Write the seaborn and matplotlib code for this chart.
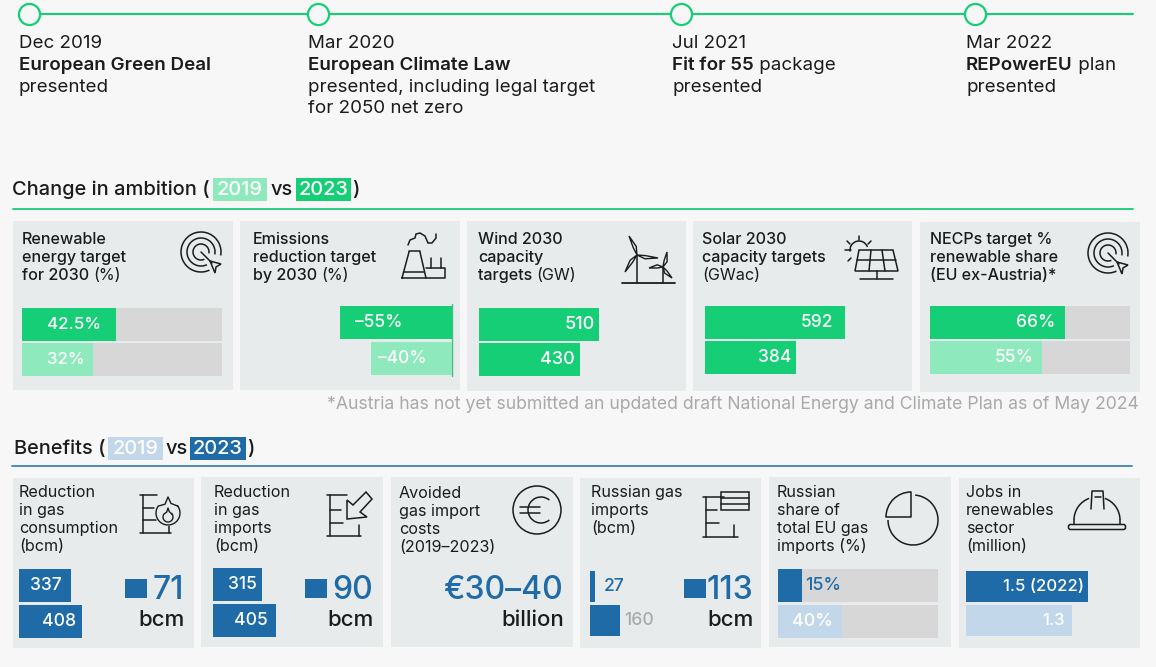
import numpy as np
import pandas as pd
import matplotlib
matplotlib.use("Agg")
import matplotlib.pyplot as plt
from matplotlib.patches import Arc, Circle, Rectangle, Polygon, FancyBboxPatch
import seaborn as sns

# ---- data ----
rows = ["2023", "2019"]

renewable_target = [42.5, 32]
renewable_labels = ["42.5%", "32%"]
emissions_target = [-55, -40]
emissions_labels = ["–55%", "–40%"]
wind_target = [510, 430]
solar_target = [592, 384]
necp_share = [66, 55]
necp_labels = ["66%", "55%"]

gas_consumption = [337, 408]
gas_imports = [315, 405]
russian_imports = [27, 160]
russian_share = [15, 40]
russian_share_labels = ["15%", "40%"]
jobs = [1.5, 1.3]
jobs_labels = ["1.5 (2022)", "1.3"]

milestones = ["Dec 2019", "Mar 2020", "Jul 2021", "Mar 2022"]

# ---- colours ----
BG = "#f7f7f7"
PANEL = "#e8ebec"
TRACK = "#d7d7d7"
GREEN = "#16ce76"
LGREEN = "#8eeabd"
BLUE = "#1f6ba8"
LBLUE = "#c2d8ea"
INK = "#1c1c1c"
GREY = "#a9a9a9"

W, H = 1156, 667
FONT = "Inter"

sns.set_theme(style="white")
plt.rcParams["font.family"] = [FONT, "DejaVu Sans"]

fig = plt.figure(figsize=(W / 100, H / 100), dpi=100, facecolor=BG)
bg = fig.add_axes([0, 0, 1, 1], zorder=0)
bg.set_xlim(0, W)
bg.set_ylim(H, 0)
bg.axis("off")
rend = fig.canvas.get_renderer()


def rich(x, y, parts, size, ax=bg):
    # run of text pieces on one baseline, (string, weight, colour)
    for s, weight, col in parts:
        t = ax.text(x, y, s, fontsize=size, fontweight=weight, color=col, va="baseline", ha="left")
        x += t.get_window_extent(rend).width
    return x


def bars(box, values, labels, colors, xlim, offsets, size=12.5, label_cols=None, track=None):
    left, top, right, bottom = box
    ax = fig.add_axes([left / W, 1 - bottom / H, (right - left) / W, (bottom - top) / H], zorder=2)
    df = pd.DataFrame({"year": rows, "value": values})
    if track is not None:
        sns.barplot(x=[track, track], y=rows, color=TRACK, saturation=1, width=0.94, linewidth=0, ax=ax)
    sns.barplot(data=df, x="value", y="year", hue="year", palette=dict(zip(rows, colors)),
                saturation=1, width=0.94, dodge=False, legend=False, linewidth=0, ax=ax)
    ax.set_xlim(*xlim)
    ax.set_ylim(1.5, -0.5)
    ax.axis("off")
    for i, (v, lab, off) in enumerate(zip(values, labels, offsets)):
        col = label_cols[i] if label_cols else "white"
        ax.annotate(lab, xy=(v, i), xytext=(off, 0), textcoords="offset pixels",
                    ha="right" if off < 0 and v > 0 else "left", va="center",
                    fontsize=size, color=col, fontweight="medium")
    return ax


def line(xs, ys, lw=1.1, col=INK, z=3):
    bg.plot(xs, ys, color=col, lw=lw, solid_capstyle="round", solid_joinstyle="round", zorder=z)


def arc(cx, cy, r, a0, a1, lw=1.1):
    # angles clockwise on screen because y is inverted
    bg.add_patch(Arc((cx, cy), 2 * r, 2 * r, theta1=a0, theta2=a1, color=INK, lw=lw, zorder=3))


def target_icon(cx, cy):
    for r in (20, 14, 8):
        arc(cx, cy, r, 65, 20 + 360 - 10)
    line([cx, cx + 11], [cy, cy + 11])
    bg.add_patch(Polygon([(cx + 9, cy + 9), (cx + 20, cy + 12), (cx + 15, cy + 15), (cx + 14, cy + 21)],
                         closed=True, fill=False, ec=INK, lw=1.1, zorder=3))


def blade(hub, tip):
    hub, tip = np.array(hub, float), np.array(tip, float)
    d = tip - hub
    n = np.array([-d[1], d[0]]) / np.hypot(*d)
    bg.add_patch(Polygon([hub, hub + d * 0.4 + n * 2.6, tip, hub + d * 0.4 - n * 0.6],
                         closed=True, fill=False, ec=INK, lw=1.0, zorder=3))


def barrel(x0, x1, top, bottom, m1, m2, rx):
    line([x0, x1 - 14], [top, top])
    line([x0 + 3, x0 + 3], [top, bottom])
    line([x0 + 3, x0 + 14], [m1, m1])
    line([x0 + 3, x0 + 16], [m2, m2])
    line([x0, x1], [bottom, bottom])
    line([rx, rx], [m2 + 2, bottom])


def flame(cx, cy, r, tip):
    # round bottom that rises to a point
    t = np.radians(np.linspace(-35, 215, 30))
    xs = cx + r * np.cos(t)
    ys = cy + r * np.sin(t)
    line(list(xs) + [cx - r * 0.25, cx, cx + r * 0.25, xs[0]],
         list(ys) + [cy - tip * 0.55, cy - tip, cy - tip * 0.6, ys[0]], lw=1.0, z=4)


def panel(x0, y0, x1, y1):
    bg.add_patch(Rectangle((x0, y0), x1 - x0, y1 - y0, fc=PANEL, ec="none", zorder=1))


def title(x, y, lines, size=11.6, step=18):
    for i, parts in enumerate(lines):
        rich(x, y + i * step, [(s, w, INK) for s, w in parts], size)


# ---- timeline ----
milestone_x = [29, 318, 681, 975]
bg.plot([28, 1133], [14, 14], color=GREEN, lw=1.5, zorder=2)
sns.scatterplot(x=milestone_x, y=[14] * 4, s=230, color=BG, edgecolor=GREEN, linewidth=1.6, ax=bg, zorder=3, clip_on=False)
bg.set_xlim(0, W)
bg.set_ylim(H, 0)
bg.axis("off")

T = 13.5
text_x = [19, 308, 672, 966]
body = [
    [("European Green Deal", "semibold")],
    [("European Climate Law", "semibold")],
    [("Fit for 55", "semibold"), (" package", "normal")],
    [("REPowerEU", "semibold"), (" plan", "normal")],
]
extra = [["presented"], ["presented, including legal target", "for 2050 net zero"], ["presented"], ["presented"]]
for x, m, b, e in zip(text_x, milestones, body, extra):
    bg.text(x, 48, m, fontsize=T, color=INK, va="baseline")
    rich(x, 70, [(s, w, INK) for s, w in b], T)
    for i, s in enumerate(e):
        bg.text(x, 92 + i * 21, s, fontsize=T, color=INK, va="baseline")

# ---- section headings ----
H2 = 14.4
def heading(x, y, word, box1, box2, vs_x, close_x, c1, c2, rule_y, rule, rx0, rx1):
    bg.text(x, y, word, fontsize=H2, color=INK, va="baseline", fontweight="medium")
    for (a, b), c, s in ((box1, c1, "2019"), (box2, c2, "2023")):
        bg.add_patch(Rectangle((a, y - 17), b - a, 23, fc=c, ec="none", zorder=1))
        bg.text((a + b) / 2, y, s, fontsize=H2, color="white", ha="center", va="baseline", zorder=3, fontweight="medium")
    bg.text(vs_x, y, "vs", fontsize=H2, color=INK, va="baseline", fontweight="medium")
    bg.text(close_x, y, ")", fontsize=H2, color=INK, va="baseline", fontweight="medium")
    bg.plot([rx0, rx1], [rule_y, rule_y], color=rule, lw=1.3)


heading(12, 195, "Change in ambition (", (213, 267), (296, 351), 271, 352, LGREEN, GREEN, 209, GREEN, 13, 1133)
heading(14, 454, "Benefits (", (108, 163), (190, 246), 166, 247, LBLUE, BLUE, 466, "#3f82b8", 12, 1132)

# ---- top panels ----
for b in [(13, 221, 233, 390), (240, 221, 460, 390), (467, 221, 686, 391), (693, 221, 912, 391), (920, 222, 1140, 392)]:
    panel(*b)

title(22, 244, [[("Renewable", "medium")], [("energy target", "medium")], [("for 2030 ", "medium"), ("(%)", "normal")]])
title(253, 244, [[("Emissions", "medium")], [("reduction target", "medium")], [("by 2030 ", "medium"), ("(%)", "normal")]])
title(478, 244, [[("Wind 2030", "medium")], [("capacity", "medium")], [("targets ", "medium"), ("(GW)", "normal")]])
title(702, 244, [[("Solar 2030", "medium")], [("capacity targets", "medium")], [("(GWac)", "normal")]])
title(930, 244, [[("NECPs target %", "medium")], [("renewable share", "medium")], [("(EU ex-Austria)*", "medium")]])

bars((22, 307, 222, 377), renewable_target, renewable_labels, [GREEN, LGREEN], (0, 90), [-15, -8], size=12.2, track=90)
bars((340, 305, 452, 376), emissions_target, emissions_labels, [GREEN, LGREEN], (-55, 0), [15, 7])
bars((479, 307, 700, 377), wind_target, ["510", "430"], [GREEN, GREEN], (0, 221 / 0.235), [-4, -5], size=13)
bars((705, 305, 900, 375), solar_target, ["592", "384"], [GREEN, GREEN], (0, 195 / 0.2365), [-12, -5])
bars((930, 305, 1130, 375), necp_share, necp_labels, [GREEN, LGREEN], (0, 98), [-9, -9], track=98)
bg.plot([452, 452], [304, 376], color="#4bb985", lw=1, zorder=4)

bg.text(1139, 409, "*Austria has not yet submitted an updated draft National Energy and Climate Plan as of May 2024",
        fontsize=12.7, color=GREY, ha="right", va="baseline", zorder=3)

# ---- bottom panels ----
for b in [(13, 478, 194, 648), (201, 477, 383, 647), (391, 477, 573, 647), (580, 478, 761, 648), (769, 477, 951, 647), (959, 478, 1140, 648)]:
    panel(*b)

title(19, 497, [[("Reduction", "normal")], [("in gas", "normal")], [("consumption", "normal")], [("(bcm)", "normal")]])
title(214, 497, [[("Reduction", "normal")], [("in gas", "normal")], [("imports", "normal")], [("(bcm)", "normal")]])
title(399, 498, [[("Avoided", "normal")], [("gas import", "normal")], [("costs", "normal")], [("(2019–2023)", "normal")]])
title(591, 497, [[("Russian gas", "normal")], [("imports", "normal")], [("(bcm)", "normal")]])
title(777, 497, [[("Russian", "normal")], [("share of", "normal")], [("total EU gas", "normal")], [("imports (%)", "normal")]])
title(966, 497, [[("Jobs in", "normal")], [("renewables", "normal")], [("sector", "normal")], [("(million)", "normal")]])

bars((19, 568, 120, 639), gas_consumption, ["337", "408"], [BLUE, BLUE], (0, 101 / 0.155), [-9, -6], size=12.6)
bars((213, 567, 300, 638), gas_imports, ["315", "405"], [BLUE, BLUE], (0, 87 / 0.155), [-5, -8], size=12.6)
bars((590, 570, 680, 637), russian_imports, ["27", "160"], [BLUE, BLUE], (0, 90 / 0.187), [9, 4], size=12.6, label_cols=[BLUE, GREY])
bars((778, 568, 938, 639), russian_share, russian_share_labels, [BLUE, LBLUE], (0, 100), [3, -9], size=12.8,
     label_cols=[BLUE, "white"], track=100)
bars((966, 570, 1120, 637), jobs, jobs_labels, [BLUE, LBLUE], (0, 154 / 81.5), [-4, -7], size=12.1)

# big numbers
for right, num, unit, sq in [(184, "71", "bcm", 125), (373, "90", "bcm", 305), (563, "€30–40", "billion", None), (753, "113", "bcm", 684)]:
    bg.text(right, 599, num, fontsize=23, color=BLUE, ha="right", va="baseline", fontweight="medium", zorder=3)
    bg.text(right + 1, 626, unit, fontsize=16, color=INK, ha="right", va="baseline", fontweight="medium", zorder=3)
    if sq:
        bg.add_patch(Rectangle((sq, 579), 22, 19, fc=BLUE, ec="none", zorder=3))

# ---- icons ----
target_icon(201, 252)
target_icon(1108, 253)

# cooling tower and plant
line([402, 409, 409, 420, 420, 426, 402], [278, 252, 251, 251, 252, 278, 278])
line([404, 424], [272, 272])
line([426, 445, 445, 426], [268, 268, 278, 278])
line([431, 431], [258, 268])
line([441, 441], [258, 268])
cloud_x = np.array([408, 410, 415, 416, 420, 425, 428, 432, 436, 436])
cloud_y = np.array([245, 240, 238, 234, 233, 236, 243, 243, 238, 234])
line(cloud_x, cloud_y)

# wind turbines
line([622, 675], [283, 283], lw=1.3)
line([637, 637], [256, 283])
line([663, 663], [268, 283])
for tip in [(629, 236), (658, 258), (625, 272)]:
    blade((637, 255), tip)
for tip in [(667, 252), (672, 278), (649, 268)]:
    blade((663, 267), tip)

# solar panel
bg.add_patch(Polygon([(859, 250), (893, 250), (898, 271), (855, 271)], closed=True, fill=False, ec=INK, lw=1.1, zorder=3))
line([857, 896], [260, 260])
line([871, 869], [250, 271])
line([882, 885], [250, 271])
line([877, 877], [271, 279])
line([860, 893], [279, 279])
arc(859, 250, 9, 170, 340)
for a, b, c, d in [(859, 236, 859, 240), (847, 241, 850, 244), (871, 241, 868, 244), (845, 250, 851, 250), (848, 261, 851, 258)]:
    line([a, c], [b, d])

# barrels
barrel(140, 171, 495, 533, 508, 520, 169)
bg.add_patch(Circle((168, 513), 13, fc=PANEL, ec="none", zorder=3.5))
flame(168, 513, 12, 16)
flame(168, 517, 5, 9)

barrel(327, 361, 495, 536, 510, 523, 359)
bg.add_patch(Polygon([(347, 519), (347, 500), (353, 505), (366, 492), (372, 499), (360, 512), (367, 517)],
                     closed=True, fc=PANEL, ec=INK, lw=1.1, zorder=4))

barrel(703, 738, 497, 537, 510, 523, 734)
bg.add_patch(Rectangle((721, 492), 28, 18, fill=False, ec=INK, lw=1.1, zorder=4))
line([721, 749], [498, 498])
line([721, 749], [504, 504])

# euro coin
bg.add_patch(Circle((537, 510), 24, fill=False, ec=INK, lw=1.1, zorder=3))
arc(541, 510, 13, 50, 310)
line([520, 540], [507, 507])
line([520, 540], [513, 513])

# pie
arc(913, 520, 25, -85, 180)
line([886, 911, 911], [517, 517, 492])
arc(911, 517, 25, 180, 270)

# hard hat
arc(1097, 520, 23, 180, 250)
arc(1097, 520, 23, 290, 360)
line([1074, 1074], [520, 524])
line([1120, 1120], [520, 524])
bg.add_patch(FancyBboxPatch((1069, 525), 56, 4, boxstyle="round,pad=0.5,rounding_size=2", fill=False, ec=INK, lw=1.1, zorder=3))
line([1091, 1092, 1103, 1104], [509, 491, 491, 509])
line([1095, 1101], [497, 497])

fig.savefig("out.png", dpi=100, facecolor=BG)
